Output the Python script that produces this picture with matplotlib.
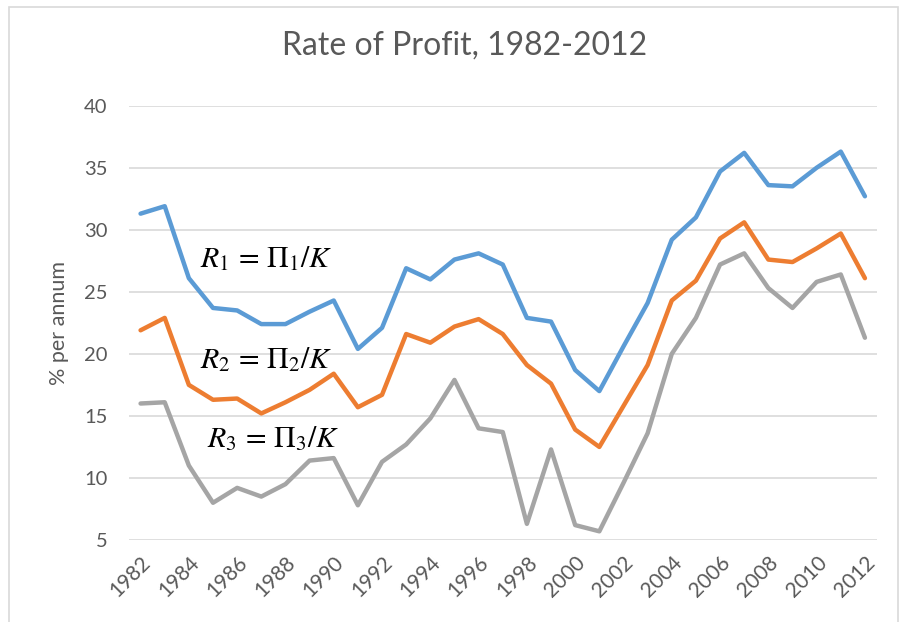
import matplotlib.pyplot as plt
from matplotlib.patches import Rectangle

# values (% per annum)
years = list(range(1982, 2013))
r1 = [31.3, 31.9, 26.1, 23.7, 23.5, 22.4, 22.4, 23.4, 24.3, 20.4, 22.1,
      26.9, 26.0, 27.6, 28.1, 27.2, 22.9, 22.6, 18.7, 17.0, 20.6, 24.1,
      29.2, 31.0, 34.7, 36.2, 33.6, 33.5, 35.0, 36.3, 32.7]
r2 = [21.9, 22.9, 17.5, 16.3, 16.4, 15.2, 16.1, 17.1, 18.4, 15.7, 16.7,
      21.6, 20.9, 22.2, 22.8, 21.6, 19.1, 17.6, 13.9, 12.5, 15.8, 19.1,
      24.3, 25.9, 29.3, 30.6, 27.6, 27.4, 28.5, 29.7, 26.1]
r3 = [16.0, 16.1, 11.0, 8.0, 9.2, 8.5, 9.5, 11.4, 11.6, 7.8, 11.3,
      12.7, 14.8, 17.9, 14.0, 13.7, 6.3, 12.3, 6.2, 5.7, 9.6, 13.6,
      20.0, 22.9, 27.2, 28.1, 25.3, 23.7, 25.8, 26.4, 21.3]
labels = [r'$R_1\,=\,\Pi_1/K$', r'$R_2\,=\,\Pi_2/K$', r'$R_3\,=\,\Pi_3/K$']

plt.rcParams['font.family'] = ['Lato', 'DejaVu Sans']
plt.rcParams['mathtext.fontset'] = 'stix'

W, H = 902, 622
fig = plt.figure(figsize=(W / 100, H / 100), dpi=100)
ax = fig.add_axes([128.5 / W, 1 - 540 / H, (877 - 128.5) / W, (540 - 105.7) / H])

ax.plot(years, r1, color='#5B9BD5', lw=3.2, solid_joinstyle='round', solid_capstyle='round')
ax.plot(years, r2, color='#ED7D31', lw=3.2, solid_joinstyle='round', solid_capstyle='round')
ax.plot(years, r3, color='#A5A5A5', lw=3.2, solid_joinstyle='round', solid_capstyle='round')

ax.set_xlim(1981.5, 2012.5)
ax.set_ylim(5, 40)
ax.set_yticks(range(5, 41, 5))
ax.set_xticks(years[::2])
ax.set_xticklabels([str(y) for y in years[::2]], rotation=45, ha='right',
                   rotation_mode='anchor', fontsize=15, color='#595959')
ax.tick_params(axis='y', labelsize=14.5, labelcolor='#595959', length=0, pad=15)
ax.tick_params(axis='x', length=0, pad=9)
ax.grid(axis='y', color='#d9d9d9', lw=1.2)
ax.set_axisbelow(True)
for s in ax.spines.values():
    s.set_visible(False)

ax.set_ylabel('% per annum', fontsize=15.5, color='#595959')
ax.yaxis.set_label_coords((69 - 128.5) / (877 - 128.5), 0.5)

fig.text(465 / W, 1 - 46 / H, 'Rate of Profit, 1982-2012', ha='center', va='center',
         fontsize=23, color='#595959')

# equation labels next to each line
fig.text(200 / W, 1 - 267 / H, labels[0], fontsize=21.5, color='black')
fig.text(200 / W, 1 - 368 / H, labels[1], fontsize=21.5, color='black')
fig.text(207 / W, 1 - 447 / H, labels[2], fontsize=21.5, color='black')

# chart border
fig.patches.append(Rectangle((9 / W, -0.01), (898 - 9) / W, 1 - 7 / H + 0.01,
                             transform=fig.transFigure, fill=False,
                             edgecolor='#d9d9d9', lw=1.2))

fig.savefig('out.png', dpi=100)
